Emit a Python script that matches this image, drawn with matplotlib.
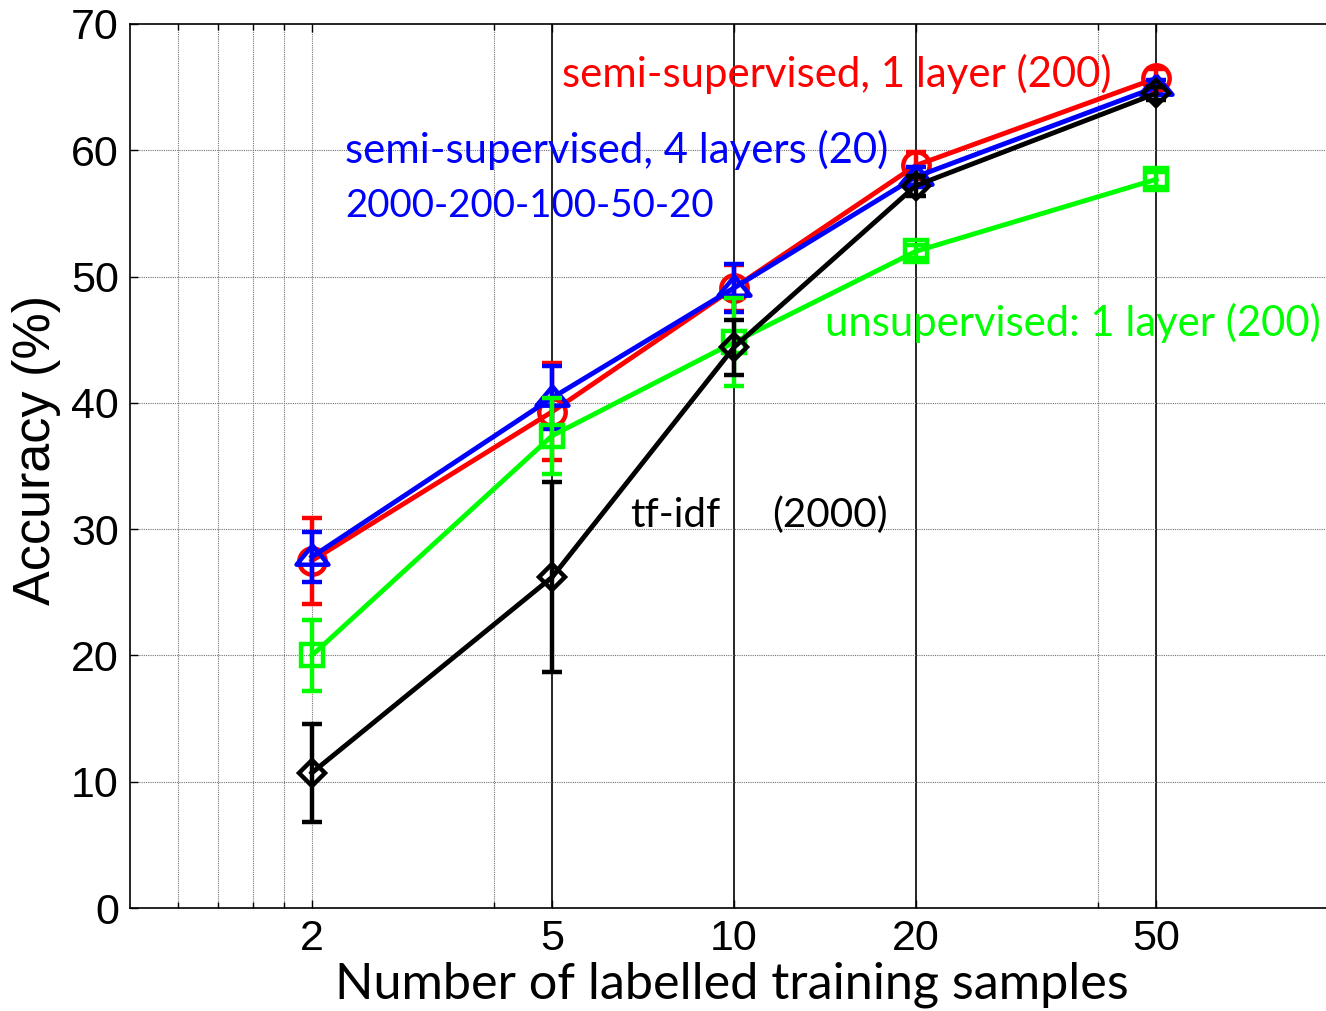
import matplotlib
matplotlib.use('Agg')
import matplotlib.pyplot as plt

# number of labelled training samples (log axis)
samples = [2, 5, 10, 20, 50]
tick_labels = ['2', '5', '10', '20', '50']

# accuracy (%) and error bars
semi_1layer = [27.5, 39.3, 49.1, 58.8, 65.7]
semi_1layer_err = [3.4, 3.85, 1.8, 1.1, 0.7]
semi_4layers = [27.8, 40.4, 49.1, 57.9, 65.0]
semi_4layers_err = [2.0, 2.5, 1.9, 0.8, 0.6]
unsup_1layer = [20.0, 37.4, 44.8, 52.0, 57.7]
unsup_1layer_err = [2.8, 3.0, 3.5, 0.5, 0.6]
tfidf = [10.7, 26.2, 44.4, 57.2, 64.5]
tfidf_err = [3.9, 7.5, 2.2, 0.8, 0.5]

plt.rcParams['font.family'] = ['Liberation Sans', 'DejaVu Sans']

W, H = 1326, 1011
fig = plt.figure(figsize=(W / 100, H / 100), dpi=100)
ax = fig.add_axes([130 / W, 1 - 908 / H, 1208 / W, 884 / H])

GREEN = (0, 1, 0)
tri = [(0, 0.75), (-1, -0.45), (1, -0.45), (0, 0.75)]  # wide matlab-like triangle

series = [
    (semi_1layer, semi_1layer_err, 'r', 'o', 19),
    (semi_4layers, semi_4layers_err, 'b', tri, 23),
    (unsup_1layer, unsup_1layer_err, GREEN, 's', 15.5),
    (tfidf, tfidf_err, 'k', 'D', 13.5),
]
for i, (y, e, c, m, ms) in enumerate(series):
    ax.errorbar(samples, y, yerr=e, color=c, marker=m, ms=ms, mfc='none', mec=c,
                mew=3.2, lw=3.5, elinewidth=3.2, capsize=7.5, capthick=3.2, zorder=3 + i)

ax.set_xscale('log')
ax.set_xlim(1, 100)
ax.set_ylim(0, 70)
ax.set_xticks(samples)
ax.set_xticklabels(tick_labels)
ax.set_xticks([1.2, 1.4, 1.6, 1.8, 4, 40], minor=True)
ax.set_xticklabels([], minor=True)
ax.set_yticks(range(0, 71, 10))

# grid: thin grey dotted, solid black at the data columns
for v in [1.2, 1.4, 1.6, 1.8, 2, 4, 40]:
    ax.axvline(v, color='0.45', lw=0.8, ls=(0, (1, 1)), zorder=1)
for v in [5, 10, 20, 50]:
    ax.axvline(v, color='k', lw=1.2, zorder=1)
for v in range(10, 70, 10):
    ax.axhline(v, color='0.45', lw=0.8, ls=(0, (1, 1)), zorder=1)

ax.tick_params(which='both', direction='in', top=True, right=True, width=1)
ax.tick_params(which='major', length=6, labelsize=31, pad=8)
ax.tick_params(which='minor', length=4)
for s in ax.spines.values():
    s.set_linewidth(1.2)

texts = []
t = ax.text(5.19, 65.0, 'semi-supervised, 1 layer (200)', color='r', family='Lato', fontsize=30, va='baseline')
texts.append((t, 548))
t = ax.text(2.27, 59.0, 'semi-supervised, 4 layers (20)', color='b', family='Lato', fontsize=30, va='baseline')
texts.append((t, 542))
t = ax.text(2.27, 54.7, '2000-200-100-50-20', color='b', family='Lato', fontsize=30, va='baseline')
texts.append((t, 370))
t = ax.text(14.14, 45.3, 'unsupervised: 1 layer (200)', color=GREEN, family='Lato', fontsize=30, va='baseline')
texts.append((t, 495))
t = ax.text(6.72, 30.2, 'tf-idf', color='k', family='Lato', fontsize=30, va='baseline')
texts.append((t, 90))
t = ax.text(11.58, 30.2, '(2000)', color='k', family='Lato', fontsize=30, va='baseline')
texts.append((t, 115))

t = fig.text(732 / W, 1 - 998 / H, 'Number of labelled training samples', ha='center', va='baseline',
             family='Lato', fontsize=36)
texts.append((t, 795))
ylab = fig.text(37 / W, 1 - 450 / H, 'Accuracy (%)', rotation=90, ha='center', va='center', fontsize=35)

# scale fonts so text widths match the original
fig.canvas.draw()
for t, w in texts:
    bb = t.get_window_extent()
    t.set_fontsize(t.get_fontsize() * w / bb.width)
bb = ylab.get_window_extent()
ylab.set_fontsize(ylab.get_fontsize() * 310 / bb.height)

fig.savefig('out.png', dpi=100)
